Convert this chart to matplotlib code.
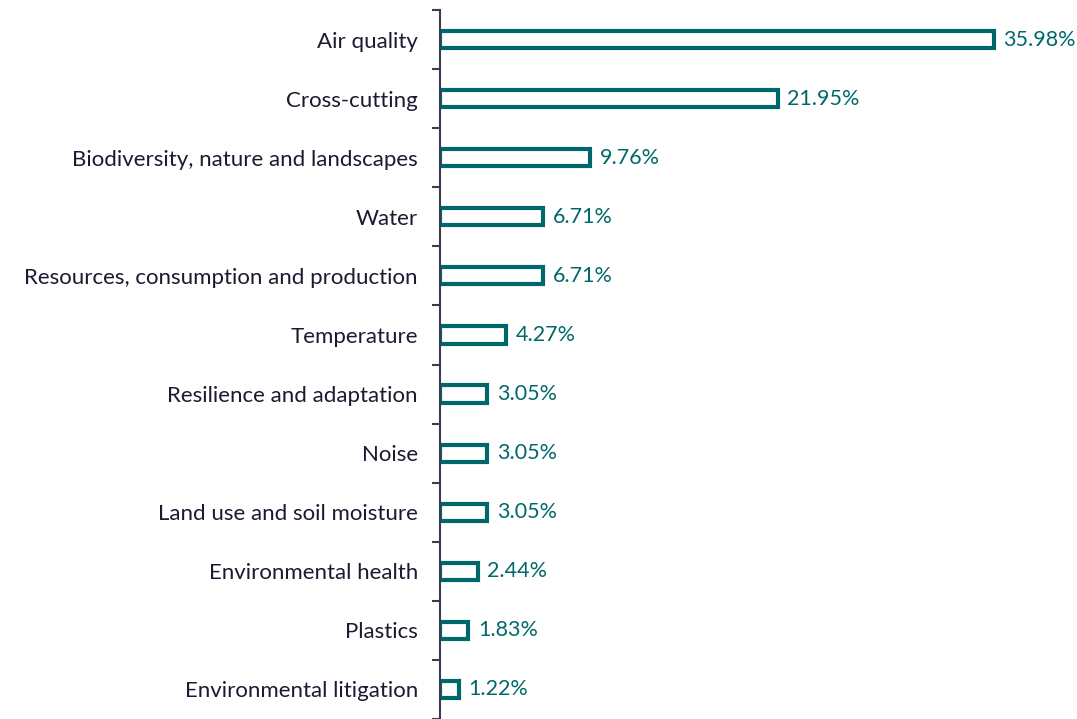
import matplotlib.pyplot as plt
import numpy as np

categories = ["Air quality", "Cross-cutting", "Biodiversity, nature and landscapes", "Water",
              "Resources, consumption and production", "Temperature", "Resilience and adaptation",
              "Noise", "Land use and soil moisture", "Environmental health", "Plastics",
              "Environmental litigation"]
values = [35.98, 21.95, 9.76, 6.71, 6.71, 4.27, 3.05, 3.05, 3.05, 2.44, 1.83, 1.22]
value_labels = ["35.98%", "21.95%", "9.76%", "6.71%", "6.71%", "4.27%", "3.05%", "3.05%",
                "3.05%", "2.44%", "1.83%", "1.22%"]

teal = "#00686B"
plt.rcParams['font.family'] = ['Lato', 'DejaVu Sans']

fig = plt.figure(figsize=(10.77, 7.19), dpi=100)
ax = fig.add_axes([440 / 1077, 0, 1 - 440 / 1077 - 0.02, 1 - 10 / 719])

y = np.arange(len(categories))
ax.barh(y, values, height=0.29, facecolor="white", edgecolor=teal, linewidth=3.0)
for yi, v, lab in zip(y, values, value_labels):
    ax.annotate(lab, (v, yi), xytext=(7, 0), textcoords="offset points",
                va="center", ha="left", fontsize=15.5, color=teal)

ax.set_ylim(len(categories) - 0.5, -0.5)
ax.set_xlim(0, 40)
ax.set_yticks(y)
ax.set_yticklabels(categories, fontsize=16, color="#1A1A30")
ax.tick_params(axis="y", which="major", length=0, pad=16)
ax.set_yticks(np.arange(-0.5, len(categories)), minor=True)
ax.tick_params(axis="y", which="minor", length=6, width=1.5, color="#3C3C50")
ax.set_xticks([])
for s in ["top", "right", "bottom"]:
    ax.spines[s].set_visible(False)
ax.spines["left"].set_color("#3C3C50")
ax.spines["left"].set_linewidth(1.5)

fig.savefig("out.png", dpi=100)
